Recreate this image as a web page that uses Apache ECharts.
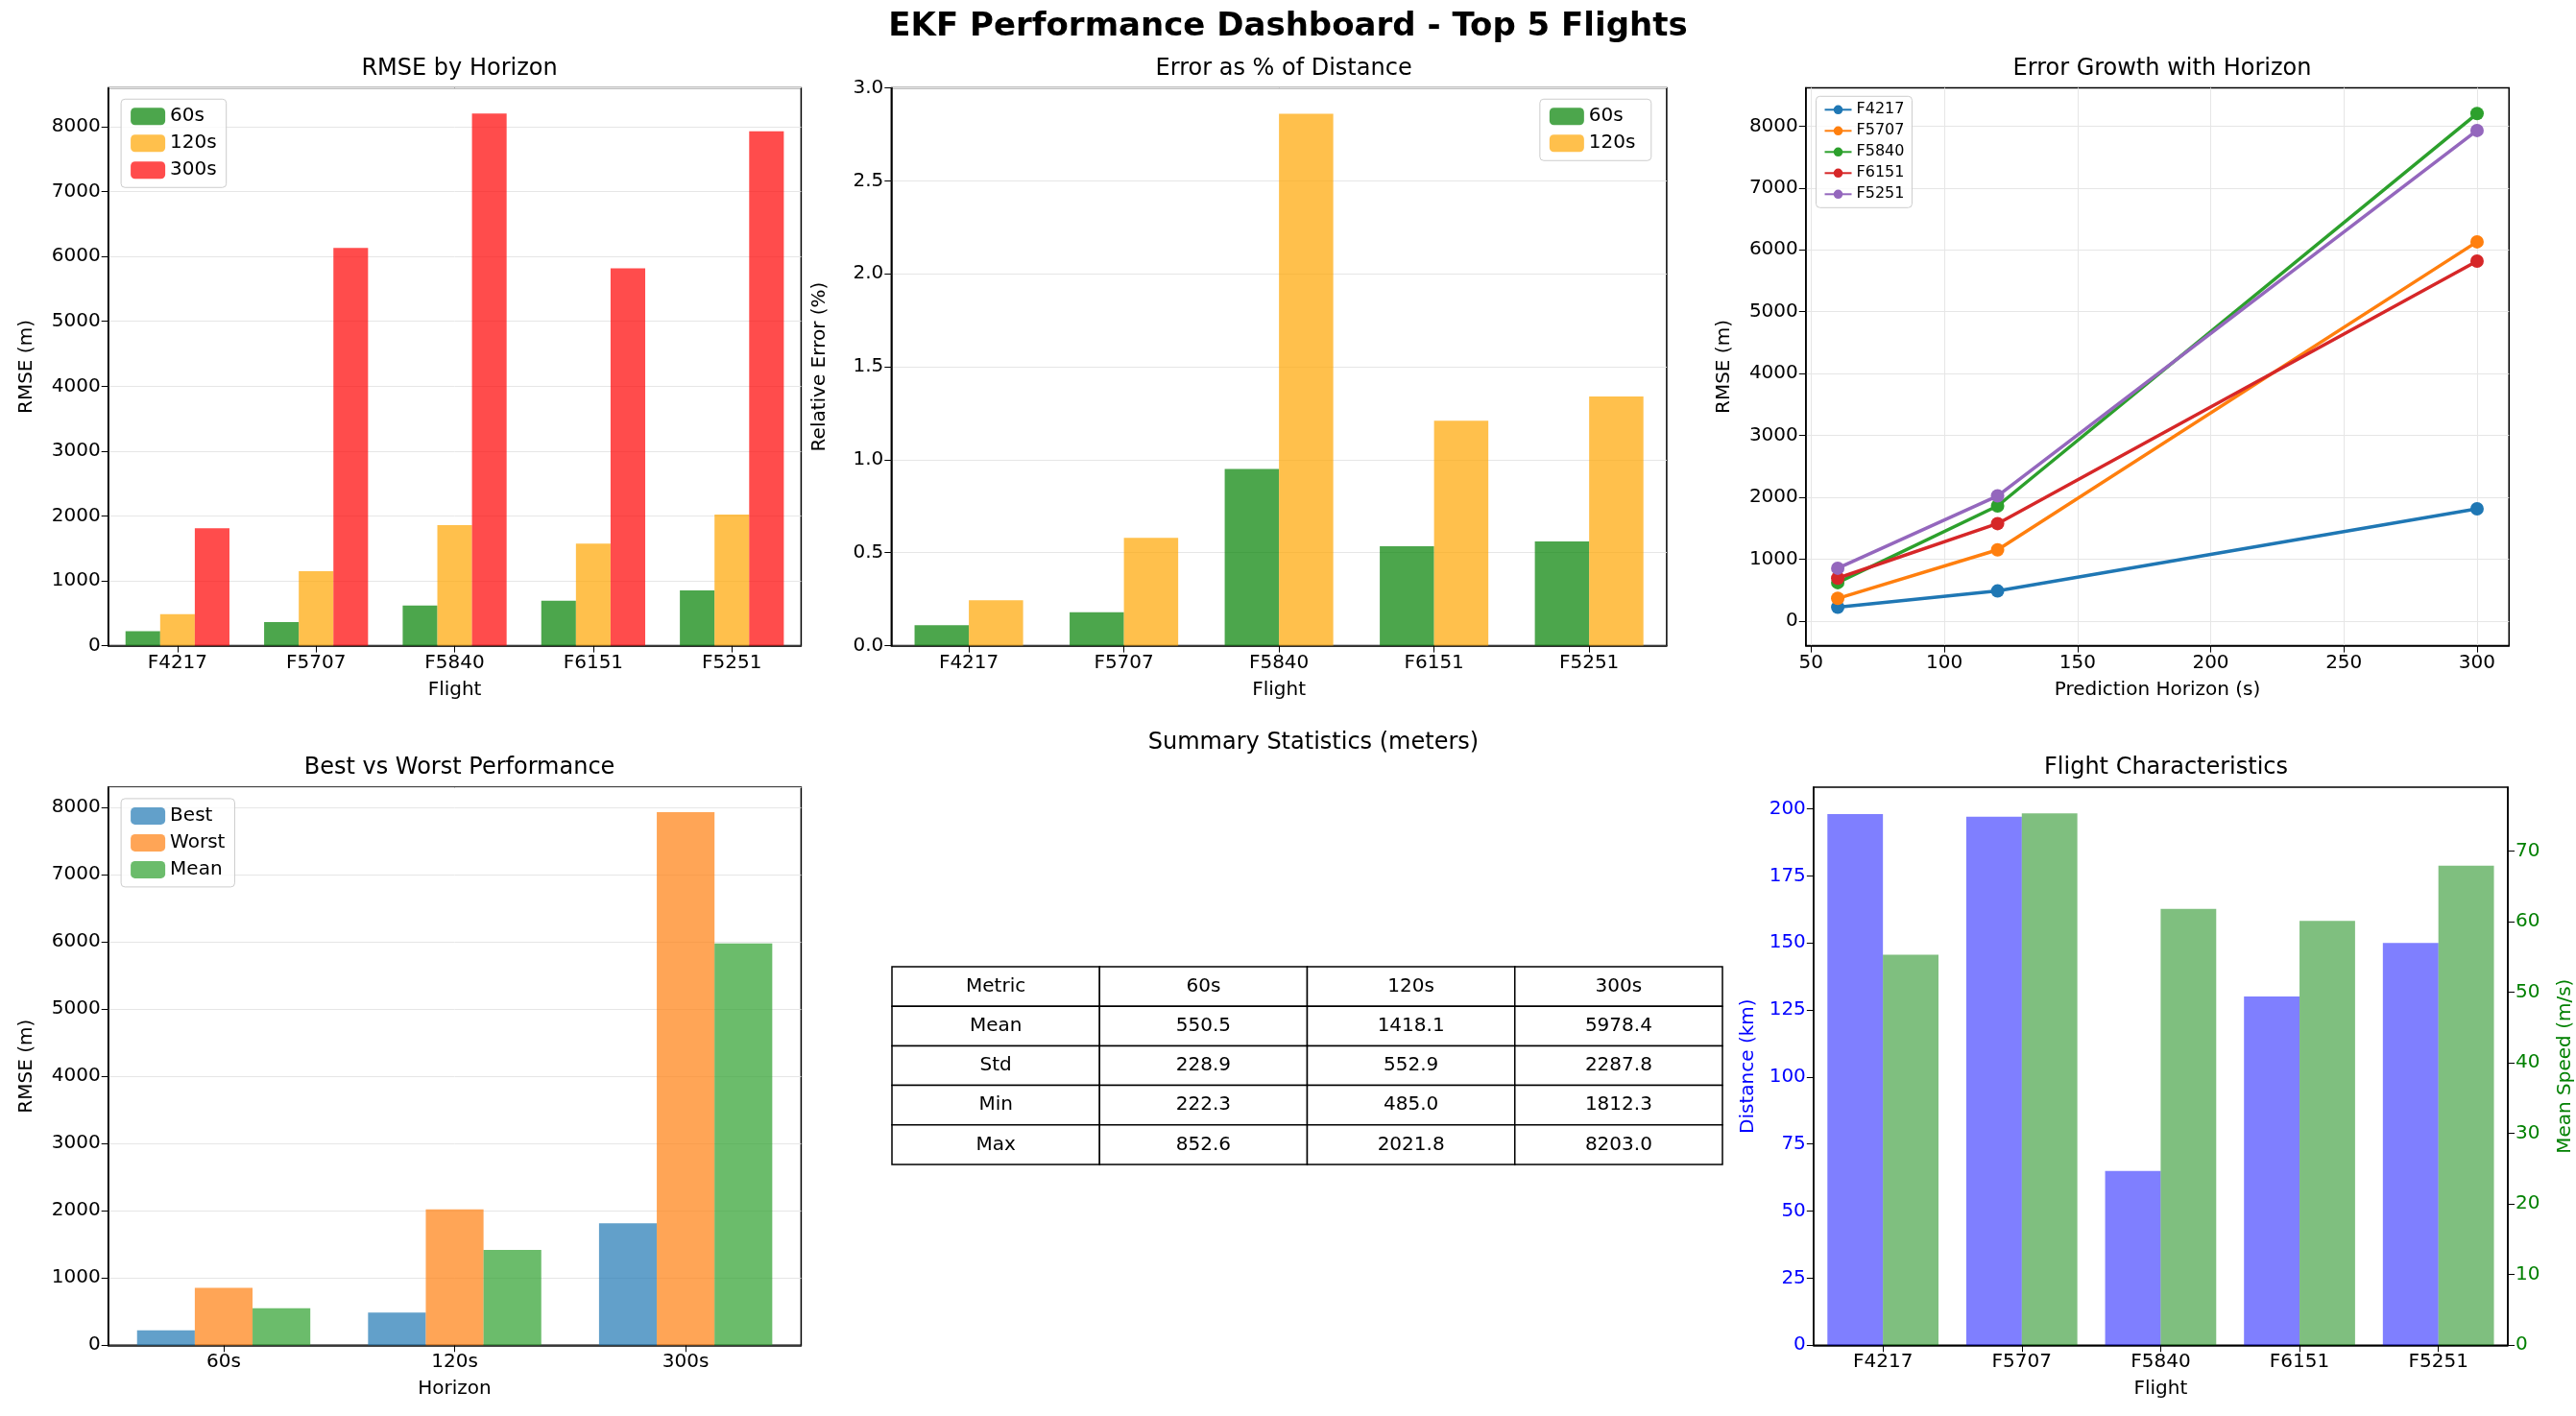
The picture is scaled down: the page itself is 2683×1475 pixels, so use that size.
<!DOCTYPE html>
<html><head><meta charset="utf-8">
<script src="https://cdn.jsdelivr.net/npm/echarts@6/dist/echarts.min.js"></script>
<style>html,body{margin:0;padding:0;background:#fff}#c{width:2683px;height:1475px}</style>
</head><body><div id="c"></div>
<script>
const flights=['F4217','F5707','F5840','F6151','F5251'];
const rmse60=[222.3,365,620,692,852.6];
const rmse120=[485.0,1150,1860,1574,2021.8];
const rmse300=[1812.3,6130,8203.0,5817,7930];
const pct60=[0.11,0.18,0.95,0.535,0.56];
const pct120=[0.245,0.58,2.86,1.21,1.34];
const horizons=[60,120,300];
const horizonLabels=['60s','120s','300s'];
const best=[222.3,485.0,1812.3];
const worst=[852.6,2021.8,7930];
const meanv=[550.5,1418.1,5978.4];
const distKm=[198,197,65,130,150];
const speed=[55.3,75.3,61.8,60.1,67.9];
const lineXTicks=[50,100,150,200,250,300];
const lineYTicks=[0,1000,2000,3000,4000,5000,6000,7000,8000];
const tableHeader=['Metric','60s','120s','300s'];
const tableRows=[['Mean','550.5','1418.1','5978.4'],['Std','228.9','552.9','2287.8'],['Min','222.3','485.0','1812.3'],['Max','852.6','2021.8','8203.0']];
const lineColors=['#1f77b4','#ff7f0e','#2ca02c','#d62728','#9467bd'];

const F='DejaVu Sans';
const fs=20;
const grids=[
 {left:'4.2%',width:'26.9%',top:'6.2%',height:'39.4%'},
 {left:'34.6%',width:'30.1%',top:'6.2%',height:'39.4%'},
 {left:'70.1%',width:'27.3%',top:'6.2%',height:'39.4%'},
 {left:'4.2%',width:'26.9%',top:'55.6%',height:'39.4%'},
 {left:'70.4%',width:'27.0%',top:'55.6%',height:'39.4%'}
];
grids.forEach(g=>{g.show=true;g.borderColor='#000';g.borderWidth=1.5;g.backgroundColor='transparent';});
const lab={color:'#000',fontSize:fs,fontFamily:F};
const plain=v=>String(v);
const axL={onZero:false,lineStyle:{color:'#000',width:1.5}};
const tick={show:true,lineStyle:{color:'#000'},length:7};
const grid2={show:true,lineStyle:{color:'#e6e6e6'}};
function catX(gi,data,name){return {type:'category',gridIndex:gi,data:data,axisLabel:lab,axisLine:axL,axisTick:Object.assign({alignWithLabel:true},tick),name:name,nameLocation:'middle',nameGap:36,nameTextStyle:lab};}
function valY(gi,name,o){return Object.assign({type:'value',gridIndex:gi,axisLabel:Object.assign({formatter:plain,showMaxLabel:false},lab),axisLine:Object.assign({show:true},axL),axisTick:tick,name:name,nameLocation:'middle',nameGap:75,nameTextStyle:lab,splitLine:grid2},o||{});}
const titles=[
 ['RMSE by Horizon','17.65%','3.7%'],['Error as % of Distance','49.65%','3.7%'],['Error Growth with Horizon','83.75%','3.7%'],
 ['Best vs Worst Performance','17.65%','53.1%'],['Summary Statistics (meters)','50.8%','51.3%'],['Flight Characteristics','83.9%','53.1%']
].map(t=>({text:t[0],left:t[1],top:t[2],textAlign:'center',textStyle:{fontSize:24,fontWeight:'normal',fontFamily:F,color:'#000'}}));
titles.unshift({text:'EKF Performance Dashboard - Top 5 Flights',left:'center',top:'0.4%',textStyle:{fontSize:34,fontWeight:'bold',fontFamily:F,color:'#000'}});

const legStyle={borderColor:'#ccc',borderWidth:1,borderRadius:4,padding:[8,10],itemGap:8,orient:'vertical',textStyle:{fontSize:20,fontFamily:F,color:'#000'},itemWidth:36,itemHeight:18,backgroundColor:'rgba(255,255,255,0.8)'};
const series=[];
const c1=['rgba(0,128,0,0.7)','rgba(255,165,0,0.7)','rgba(255,0,0,0.7)'];
[rmse60,rmse120,rmse300].forEach((d,i)=>series.push({type:'bar',name:horizonLabels[i],xAxisIndex:0,yAxisIndex:0,data:d,barGap:'0%',barCategoryGap:'25%',itemStyle:{color:c1[i]}}));
[pct60,pct120].forEach((d,i)=>series.push({type:'bar',name:horizonLabels[i]+' ',xAxisIndex:1,yAxisIndex:1,data:d,barGap:'0%',barCategoryGap:'30%',itemStyle:{color:c1[i]}}));
flights.forEach((f,i)=>series.push({type:'line',name:f,xAxisIndex:2,yAxisIndex:2,data:horizons.map((h,j)=>[h,[rmse60,rmse120,rmse300][j][i]]),symbol:'circle',symbolSize:14,lineStyle:{width:3.5,color:lineColors[i]},itemStyle:{color:lineColors[i]}}));
const c4=['rgba(31,119,180,0.7)','rgba(255,127,14,0.7)','rgba(44,160,44,0.7)'];
[best,worst,meanv].forEach((d,i)=>series.push({type:'bar',name:['Best','Worst','Mean'][i],xAxisIndex:3,yAxisIndex:3,data:d,barGap:'0%',barCategoryGap:'25%',itemStyle:{color:c4[i]}}));
series.push({type:'bar',name:'Distance',xAxisIndex:4,yAxisIndex:4,data:distKm,barGap:'0%',barCategoryGap:'20%',itemStyle:{color:'rgba(0,0,255,0.5)'}});
series.push({type:'bar',name:'Speed',xAxisIndex:4,yAxisIndex:5,data:speed,barGap:'0%',barCategoryGap:'20%',itemStyle:{color:'rgba(0,128,0,0.5)'}});

const tx=929,ty=1007,tw=865,rh=41.2,cw=tw/4;
const graphic=[];
[tableHeader].concat(tableRows).forEach((row,r)=>row.forEach((cell,c)=>{
 graphic.push({type:'rect',shape:{x:tx+c*cw,y:ty+r*rh,width:cw,height:rh},style:{fill:'#fff',stroke:'#000',lineWidth:1.5}});
 graphic.push({type:'text',x:tx+c*cw+cw/2,y:ty+r*rh+rh/2,style:{text:cell,fontSize:20,fontFamily:F,fill:'#000',align:'center',verticalAlign:'middle'}});
}));

const smallLeg=Object.assign({},legStyle,{itemWidth:28,itemHeight:12,itemGap:6,padding:[6,8],textStyle:{fontSize:16,fontFamily:F,color:'#000'}});
const opt={animation:false,title:titles,grid:grids,graphic:graphic,
 legend:[
  Object.assign({},legStyle,{data:['60s','120s','300s'],left:'4.7%',top:'7%'}),
  Object.assign({},legStyle,{data:['60s ','120s '],right:'35.9%',top:'7%'}),
  Object.assign({},smallLeg,{data:flights,left:'70.5%',top:'6.8%'}),
  Object.assign({},legStyle,{data:['Best','Worst','Mean'],left:'4.7%',top:'56.4%'})
 ],
 xAxis:[catX(0,flights,'Flight'),catX(1,flights,'Flight'),
  {type:'value',gridIndex:2,min:48,max:312,axisLabel:Object.assign({customValues:lineXTicks,formatter:plain},lab),axisLine:axL,axisTick:Object.assign({customValues:lineXTicks},tick),splitLine:grid2,name:'Prediction Horizon (s)',nameLocation:'middle',nameGap:36,nameTextStyle:lab},
  catX(3,horizonLabels,'Horizon'),catX(4,flights,'Flight')],
 yAxis:[valY(0,'RMSE (m)',{min:0,max:8600,interval:1000}),
  valY(1,'Relative Error (%)',{min:0,max:3,interval:0.5,nameGap:65,axisLabel:Object.assign({formatter:v=>v.toFixed(1)},lab)}),
  valY(2,'RMSE (m)',{min:-400,max:8620,axisLabel:Object.assign({customValues:lineYTicks,formatter:plain},lab),axisTick:Object.assign({customValues:lineYTicks},tick)}),
  valY(3,'RMSE (m)',{min:0,max:8300,interval:1000}),
  valY(4,'Distance (km)',{min:0,max:208,interval:25,nameGap:58,splitLine:{show:false},axisLabel:Object.assign({},lab,{color:'blue',showMaxLabel:false}),nameTextStyle:Object.assign({},lab,{color:'blue'})}),
  valY(4,'Mean Speed (m/s)',{position:'right',min:0,max:79,interval:10,nameGap:50,splitLine:{show:false},axisLabel:Object.assign({},lab,{color:'green',showMaxLabel:false}),nameTextStyle:Object.assign({},lab,{color:'green'})})],
 series:series};
echarts.init(document.getElementById('c')).setOption(opt);
</script></body></html>
